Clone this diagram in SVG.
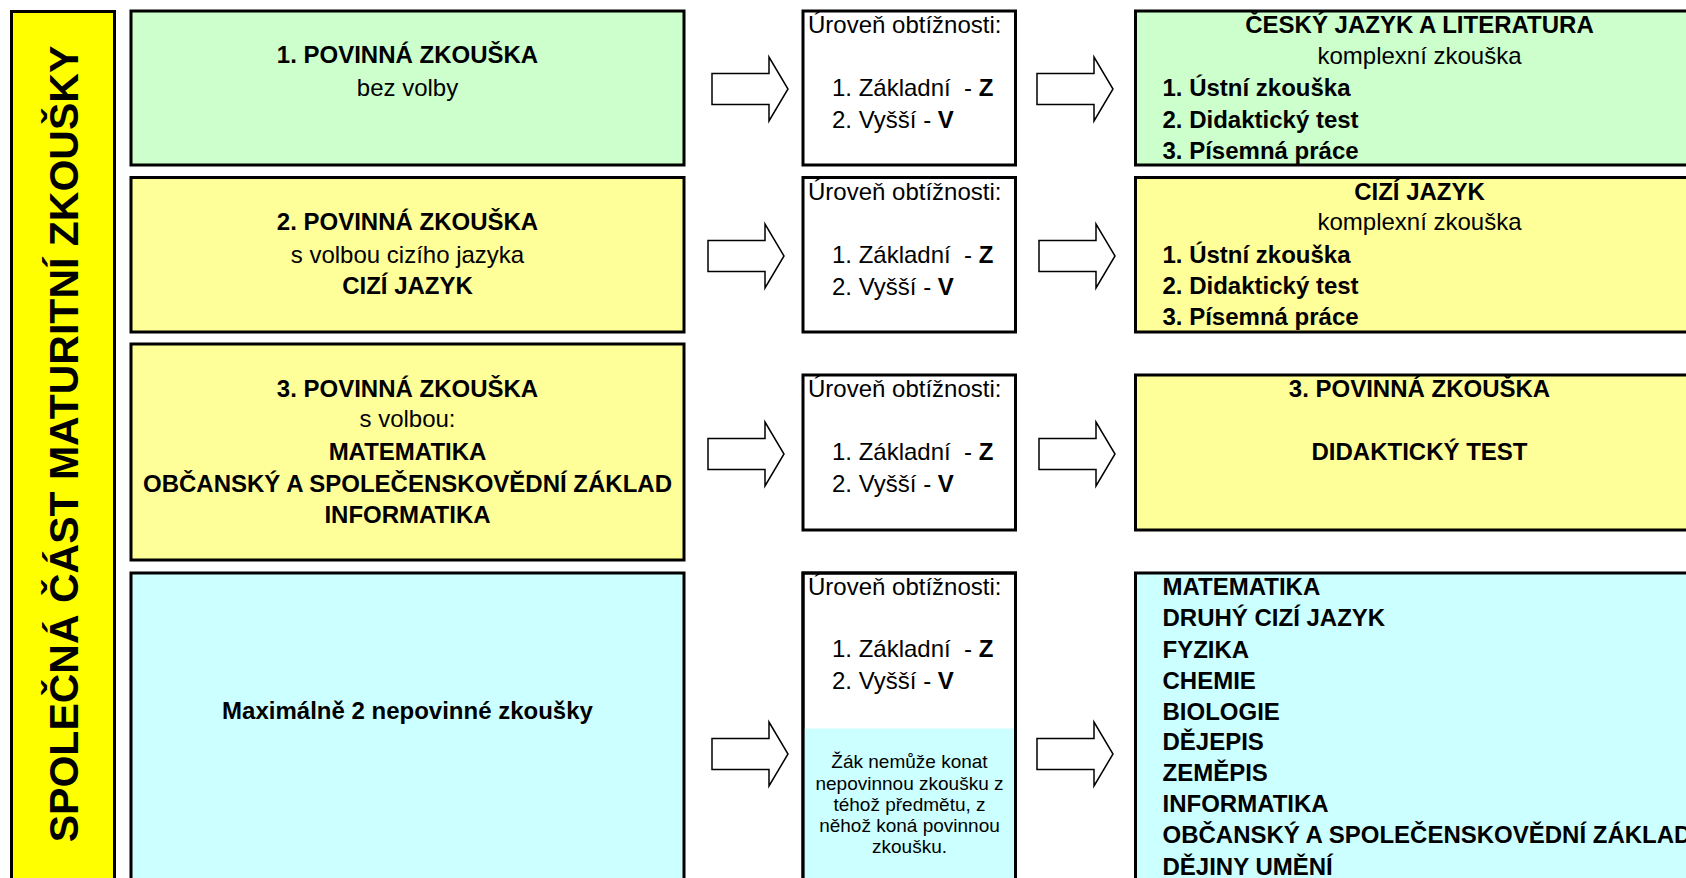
<svg xmlns="http://www.w3.org/2000/svg" width="1686" height="878" viewBox="0 0 1686 878" font-family="'Liberation Sans', Arial, sans-serif">
<style>
  text { font-family: "Liberation Sans", Arial, sans-serif; font-size: 24px; fill: #000; }
  .b { font-weight: bold; }
  .c { text-anchor: middle; }
  .box { stroke: #000; stroke-width: 3; }
  .g { fill: #CCFFCC; }
  .y { fill: #FFFF99; }
  .cy { fill: #CCFFFF; }
  .w { fill: #FFFFFF; }
  .arrow { fill: #FFFFFF; stroke: #000; stroke-width: 1.5; stroke-linejoin: miter; }
  .note { font-size: 19px; }
</style>
<defs>
  <path id="arr" d="M0,-15.5 H57 V-32 L76,0 L57,32 V15.5 H0 Z"/>
</defs>
<rect width="1686" height="878" fill="#FFFFFF"/>

<g id="side-title">
  <rect class="box" x="11.5" y="11.5" width="103" height="900" fill="#FFFF00"/>
  <text class="b c" transform="translate(77.5,444) rotate(-90)" style="font-size:41px">SPOLEČNÁ ČÁST MATURITNÍ ZKOUŠKY</text>
</g>

<g id="exam1">
  <rect class="box g" x="131" y="11" width="553" height="154"/>
  <text class="b c" x="407.5" y="63">1. POVINNÁ ZKOUŠKA</text>
  <text class="c" x="407.5" y="95.5">bez volby</text>
</g>
<g id="exam2">
  <rect class="box y" x="131" y="177.5" width="553" height="154.5"/>
  <text class="b c" x="407.5" y="230">2. POVINNÁ ZKOUŠKA</text>
  <text class="c" x="407.5" y="262.5">s volbou cizího jazyka</text>
  <text class="b c" x="407.5" y="293.5">CIZÍ JAZYK</text>
</g>
<g id="exam3">
  <rect class="box y" x="131" y="344" width="553" height="216"/>
  <text class="b c" x="407.5" y="396.5">3. POVINNÁ ZKOUŠKA</text>
  <text class="c" x="407.5" y="427">s volbou:</text>
  <text class="b c" x="407.5" y="460">MATEMATIKA</text>
  <text class="b c" x="407.5" y="491.5">OBČANSKÝ A SPOLEČENSKOVĚDNÍ ZÁKLAD</text>
  <text class="b c" x="407.5" y="522.5">INFORMATIKA</text>
</g>
<g id="exam4">
  <rect class="box cy" x="131" y="573" width="553" height="340"/>
  <text class="b c" x="407.5" y="719">Maximálně 2 nepovinné zkoušky</text>
</g>

<g id="level1">
  <rect class="box w" x="803" y="11" width="212.5" height="154"/>
  <text x="808" y="33">Úroveň obtížnosti:</text>
  <text x="832" y="96" xml:space="preserve">1. Základní  - <tspan class="b">Z</tspan></text>
  <text x="832" y="127.5">2. Vyšší - <tspan class="b">V</tspan></text>
</g>
<g id="level2">
  <rect class="box w" x="803" y="177.5" width="212.5" height="154.5"/>
  <text x="808" y="199.5">Úroveň obtížnosti:</text>
  <text x="832" y="263" xml:space="preserve">1. Základní  - <tspan class="b">Z</tspan></text>
  <text x="832" y="294.5">2. Vyšší - <tspan class="b">V</tspan></text>
</g>
<g id="level3">
  <rect class="box w" x="803" y="375" width="212.5" height="155"/>
  <text x="808" y="397">Úroveň obtížnosti:</text>
  <text x="832" y="460" xml:space="preserve">1. Základní  - <tspan class="b">Z</tspan></text>
  <text x="832" y="491.5">2. Vyšší - <tspan class="b">V</tspan></text>
</g>
<g id="level4">
  <rect class="box w" x="803" y="573" width="212.5" height="340"/>
  <rect class="cy" x="804.5" y="728.5" width="209.5" height="200"/>
  <rect x="803" y="573" width="212.5" height="340" fill="none" stroke="#000" stroke-width="3"/>
  <text x="808" y="594.5">Úroveň obtížnosti:</text>
  <text x="832" y="657" xml:space="preserve">1. Základní  - <tspan class="b">Z</tspan></text>
  <text x="832" y="688.5">2. Vyšší - <tspan class="b">V</tspan></text>
  <text class="c note" x="909.5" y="768">Žák nemůže konat</text>
  <text class="c note" x="909.5" y="789.5">nepovinnou zkoušku z</text>
  <text class="c note" x="909.5" y="811">téhož předmětu, z</text>
  <text class="c note" x="909.5" y="832">něhož koná povinnou</text>
  <text class="c note" x="909.5" y="853">zkoušku.</text>
</g>

<g id="result1">
  <rect class="box g" x="1135.5" y="11" width="600" height="154"/>
  <text class="b c" x="1419.5" y="32.5">ČESKÝ JAZYK A LITERATURA</text>
  <text class="c" x="1419.5" y="63.5">komplexní zkouška</text>
  <text class="b" x="1162.5" y="96">1. Ústní zkouška</text>
  <text class="b" x="1162.5" y="127.5">2. Didaktický test</text>
  <text class="b" x="1162.5" y="158.5">3. Písemná práce</text>
</g>
<g id="result2">
  <rect class="box y" x="1135.5" y="177.5" width="600" height="154.5"/>
  <text class="b c" x="1419.5" y="199.5">CIZÍ JAZYK</text>
  <text class="c" x="1419.5" y="230">komplexní zkouška</text>
  <text class="b" x="1162.5" y="262.5">1. Ústní zkouška</text>
  <text class="b" x="1162.5" y="294">2. Didaktický test</text>
  <text class="b" x="1162.5" y="324.5">3. Písemná práce</text>
</g>
<g id="result3">
  <rect class="box y" x="1135.5" y="375" width="600" height="155"/>
  <text class="b c" x="1419.5" y="397">3. POVINNÁ ZKOUŠKA</text>
  <text class="b c" x="1419.5" y="460">DIDAKTICKÝ TEST</text>
</g>
<g id="result4">
  <rect class="box cy" x="1135.5" y="573" width="600" height="340"/>
  <text class="b" x="1162.5" y="594.5">MATEMATIKA</text>
  <text class="b" x="1162.5" y="626">DRUHÝ CIZÍ JAZYK</text>
  <text class="b" x="1162.5" y="657.5">FYZIKA</text>
  <text class="b" x="1162.5" y="688.5">CHEMIE</text>
  <text class="b" x="1162.5" y="719.5">BIOLOGIE</text>
  <text class="b" x="1162.5" y="750">DĚJEPIS</text>
  <text class="b" x="1162.5" y="781">ZEMĚPIS</text>
  <text class="b" x="1162.5" y="811.5">INFORMATIKA</text>
  <text class="b" x="1162.5" y="843">OBČANSKÝ A SPOLEČENSKOVĚDNÍ ZÁKLAD</text>
  <text class="b" x="1162.5" y="874.5">DĚJINY UMĚNÍ</text>
</g>

<g id="connectors">
  <use href="#arr" class="arrow" x="712" y="89"/>
  <use href="#arr" class="arrow" x="1037" y="89"/>
  <use href="#arr" class="arrow" x="708" y="256"/>
  <use href="#arr" class="arrow" x="1039" y="256"/>
  <use href="#arr" class="arrow" x="708" y="454"/>
  <use href="#arr" class="arrow" x="1039" y="454"/>
  <use href="#arr" class="arrow" x="712" y="754"/>
  <use href="#arr" class="arrow" x="1037" y="754"/>
</g>
</svg>
